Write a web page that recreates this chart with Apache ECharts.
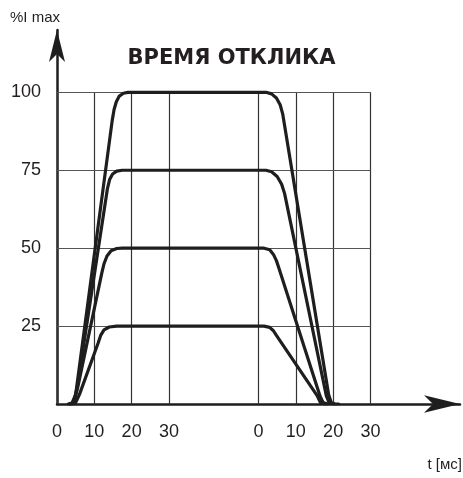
<!DOCTYPE html>
<html>
<head>
<meta charset="utf-8">
<script src="https://cdn.jsdelivr.net/npm/echarts@6/dist/echarts.min.js"></script>
<style>html,body{margin:0;padding:0;background:#fff;}#c{width:463px;height:478px;}</style>
</head>
<body>
<div id="c"></div>
<script>
// ---- data ----
const titleText = 'ВРЕМЯ ОТКЛИКА';
const yName = '%I max';
const xName = 't [мс]';
const xTickValues = [0, 10, 20, 30, 54, 64, 74, 84]; // positions on combined time axis
const xTickLabels = ['0', '10', '20', '30', '0', '10', '20', '30'];
const yTickValues = [25, 50, 75, 100];
const FALL_OFFSET = 54; // where the second (switch-off) time scale starts

// rise (switch-on) curves: [t ms, %Imax]
const rise100 = [[3,0],[4,0.3],[5,3],[14.8,91],[15.3,94.5],[15.9,97],[16.7,98.8],[17.8,99.7],[19,100]];
const rise75  = [[3.5,0],[4.5,0.5],[5.5,6],[13.5,69],[14.1,72],[14.9,73.8],[16,74.7],[17.5,75]];
const rise50  = [[3.5,0],[4.5,0.5],[5.5,5],[12,42],[12.6,45],[13.4,47.5],[14.5,49.2],[16,49.9],[17.5,50]];
const rise25  = [[4,0],[5,0.5],[6,3],[11,19.5],[11.7,22],[12.6,23.8],[14,24.7],[16,25]];
// fall (switch-off) curves: [t ms, %Imax]
const fall100 = [[0,100],[2,100],[3.5,99.5],[4.8,98.2],[5.8,96],[6.5,93],[18.8,3],[19.5,0.5],[20.5,0],[21.5,0]];
const fall75  = [[0,75],[2,75],[3.5,74.5],[5,73],[6.2,70.5],[7,67.5],[18.2,2.5],[18.9,0.5],[20,0]];
const fall50  = [[0,50],[1.5,50],[3,49.5],[4,48],[4.8,46],[5.5,43.5],[16.5,2.5],[17.3,0.5],[18.5,0]];
const fall25  = [[0,25],[1.5,25],[3,24.6],[4,23.5],[4.8,22],[15.8,2.5],[16.6,0.5],[17.8,0]];

// ---- build ----
const curves = [[rise100, fall100], [rise75, fall75], [rise50, fall50], [rise25, fall25]];
const lineColor = '#1e1e1e';
const txtColor = '#231f20';
const font = 'Liberation Sans, Arial, sans-serif';
const curveSeries = curves.map(([r, f]) => ({
  type: 'line',
  data: r.concat(f.map(([t, v]) => [t + FALL_OFFSET, v])),
  symbol: 'none',
  lineStyle: { color: lineColor, width: 3.2, join: 'round', cap: 'round' },
  z: 5,
  silent: true
}));

const xLast = xTickValues[xTickValues.length - 1];
const yTop = yTickValues[yTickValues.length - 1];
const gridMarks = [];
xTickValues.forEach(x => gridMarks.push([{ coord: [x, 0], lineStyle: { color: '#333', width: 1.2 } }, { coord: [x, yTop] }]));
yTickValues.forEach(y => gridMarks.push([{ coord: [0, y], lineStyle: { color: '#555', width: 1.2 } }, { coord: [xLast, y] }]));

const gridSeries = {
  type: 'line',
  data: [],
  silent: true,
  z: 1,
  markLine: {
    silent: true,
    symbol: 'none',
    label: { show: false },
    lineStyle: { type: 'solid' },
    data: gridMarks,
    animation: false
  }
};

const chart = echarts.init(document.getElementById('c'), null, { renderer: 'canvas' });
chart.setOption({
  animation: false,
  backgroundColor: '#fff',
  textStyle: { fontFamily: font },
  title: [
    { text: titleText, left: 'center', top: 48, padding: 0,
      textStyle: { fontSize: 21, fontWeight: 'bold', color: txtColor, fontFamily: 'DejaVu Sans, sans-serif' } },
    { text: yName, left: 10, top: 10, padding: 0,
      textStyle: { fontSize: 15, fontWeight: 'normal', color: txtColor, fontFamily: font } },
    { text: xName, right: 1, top: 457, padding: 0,
      textStyle: { fontSize: 15, fontWeight: 'normal', color: txtColor, fontFamily: font } }
  ],
  grid: { left: 57, right: 3, top: 30, bottom: 74 },
  xAxis: {
    type: 'value', min: 0, max: 108, interval: 2,
    axisLine: { show: true, lineStyle: { color: lineColor, width: 2.5 }, symbol: ['none', 'arrow'], symbolSize: [13, 36] },
    axisTick: { show: false },
    splitLine: { show: false },
    axisLabel: {
      margin: 19, fontSize: 18, color: txtColor,
      formatter: v => { const i = xTickValues.indexOf(v); return i >= 0 ? xTickLabels[i] : ''; }
    }
  },
  yAxis: {
    type: 'value', min: 0, max: 120, interval: 25,
    axisLine: { show: true, lineStyle: { color: lineColor, width: 2.5 }, symbol: ['none', 'arrow'], symbolSize: [12, 32] },
    axisTick: { show: false },
    splitLine: { show: false },
    axisLabel: {
      margin: 16, fontSize: 18, color: txtColor,
      formatter: v => yTickValues.includes(v) ? String(v) : ''
    }
  },
  series: [gridSeries].concat(curveSeries)
});
</script>
</body>
</html>
